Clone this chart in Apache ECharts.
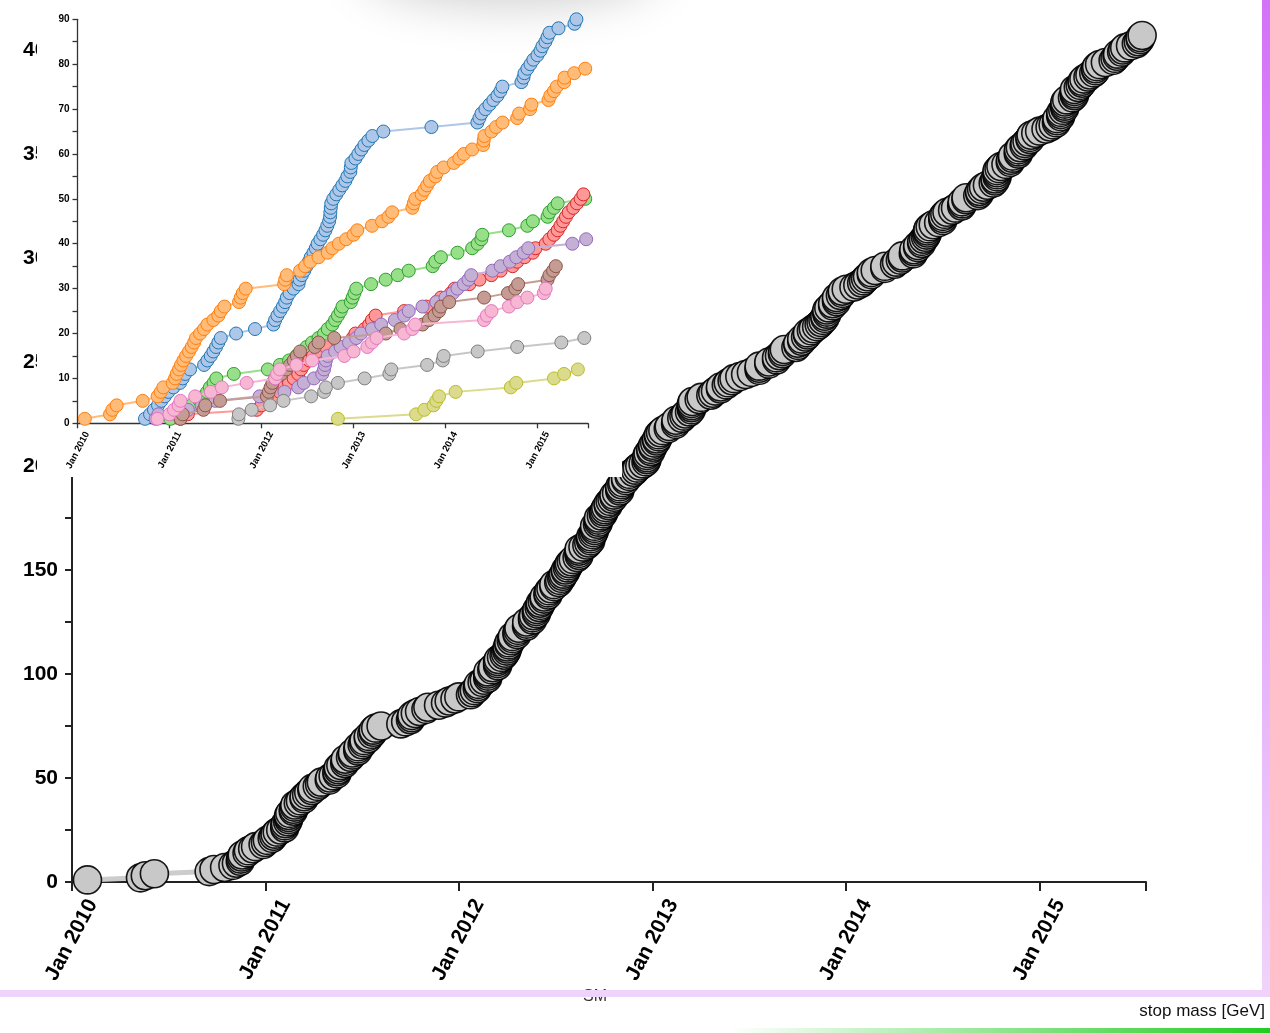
<!DOCTYPE html>
<html><head><meta charset="utf-8">
<script src="https://cdn.jsdelivr.net/npm/echarts@6/dist/echarts.min.js"></script>
<style>html,body{margin:0;padding:0;background:#fff}#c{width:1270px;height:1033px}</style>
</head><body><div id="c"></div>
<script>
// Event dates (decimal years) for each group; the y value of each circle is its running count.
const blueDates = [2010.734,2010.789,2010.832,2010.876,2010.912,2010.949,2010.988,2011.043,2011.115,2011.144,2011.17,2011.224,2011.377,2011.413,2011.449,2011.478,2011.507,2011.532,2011.558,2011.725,2011.931,2012.131,2012.149,2012.174,2012.204,2012.233,2012.258,2012.276,2012.305,2012.349,2012.403,2012.414,2012.439,2012.465,2012.49,2012.515,2012.535,2012.565,2012.59,2012.61,2012.64,2012.67,2012.695,2012.715,2012.735,2012.745,2012.748,2012.753,2012.758,2012.78,2012.813,2012.845,2012.878,2012.911,2012.933,2012.965,2012.97,2012.976,2013.02,2013.052,2013.085,2013.118,2013.161,2013.205,2013.324,2013.847,2014.347,2014.369,2014.391,2014.434,2014.478,2014.521,2014.565,2014.597,2014.619,2014.826,2014.848,2014.859,2014.891,2014.924,2014.956,2015.0,2015.033,2015.054,2015.087,2015.109,2015.131,2015.229,2015.403,2015.424];
const orangeDates = [2010.08,2010.354,2010.379,2010.426,2010.709,2010.872,2010.905,2010.934,2011.035,2011.061,2011.079,2011.104,2011.126,2011.152,2011.181,2011.213,2011.242,2011.268,2011.289,2011.333,2011.376,2011.413,2011.478,2011.532,2011.558,2011.598,2011.757,2011.775,2011.797,2011.83,2012.247,2012.258,2012.276,2012.42,2012.475,2012.53,2012.62,2012.72,2012.77,2012.84,2012.92,2013.0,2013.04,2013.2,2013.31,2013.38,2013.42,2013.64,2013.655,2013.672,2013.74,2013.77,2013.80,2013.83,2013.89,2013.91,2013.98,2014.09,2014.15,2014.20,2014.29,2014.41,2014.416,2014.423,2014.50,2014.55,2014.62,2014.78,2014.80,2014.92,2014.935,2015.12,2015.14,2015.18,2015.21,2015.29,2015.295,2015.40,2015.52];
const greenDates = [2011.01,2011.10,2011.15,2011.24,2011.33,2011.37,2011.41,2011.44,2011.48,2011.51,2011.70,2012.07,2012.2,2012.3,2012.38,2012.44,2012.49,2012.55,2012.62,2012.68,2012.72,2012.77,2012.80,2012.83,2012.86,2012.88,2012.97,2012.99,2013.01,2013.03,2013.19,2013.35,2013.48,2013.6,2013.86,2013.89,2013.95,2014.13,2014.29,2014.35,2014.39,2014.40,2014.69,2014.89,2014.95,2015.11,2015.13,2015.18,2015.22,2015.52];
const redDates = [2011.12,2011.2,2011.95,2012.0,2012.1,2012.15,2012.2,2012.25,2012.3,2012.35,2012.4,2012.43,2012.46,2012.52,2012.56,2012.62,2012.7,2012.97,2012.99,2013.02,2013.12,2013.17,2013.2,2013.24,2013.55,2013.79,2013.9,2013.95,2014.06,2014.1,2014.26,2014.37,2014.5,2014.6,2014.73,2014.78,2014.86,2014.95,2014.98,2015.09,2015.13,2015.18,2015.22,2015.25,2015.28,2015.31,2015.34,2015.39,2015.43,2015.47,2015.50];
const purpleDates = [2010.85,2010.88,2011.2,2011.35,2011.5,2011.98,2012.25,2012.40,2012.46,2012.57,2012.66,2012.68,2012.69,2012.70,2012.72,2012.80,2012.86,2012.95,2013.03,2013.08,2013.2,2013.3,2013.45,2013.55,2013.6,2013.75,2013.9,2014.0,2014.08,2014.13,2014.2,2014.25,2014.28,2014.51,2014.6,2014.7,2014.77,2014.85,2014.9,2015.38,2015.53];
const brownDates = [2011.12,2011.145,2011.37,2011.39,2011.55,2012.06,2012.08,2012.10,2012.12,2012.15,2012.22,2012.27,2012.31,2012.35,2012.385,2012.42,2012.58,2012.62,2012.79,2013.35,2013.51,2013.75,2013.82,2013.88,2013.93,2013.95,2014.04,2014.42,2014.68,2014.76,2014.79,2015.11,2015.13,2015.17,2015.20];
const pinkDates = [2010.87,2011.0,2011.05,2011.10,2011.12,2011.28,2011.45,2011.57,2011.84,2012.15,2012.17,2012.2,2012.38,2012.55,2012.9,2013.0,2013.15,2013.2,2013.25,2013.55,2013.64,2013.67,2014.42,2014.45,2014.50,2014.69,2014.78,2014.89,2015.07,2015.09];
const greyDates = [2011.75,2011.755,2011.895,2012.095,2012.24,2012.54,2012.68,2012.70,2012.83,2013.12,2013.39,2013.41,2013.80,2013.97,2013.98,2014.35,2014.78,2015.26,2015.51];
const yellowDates = [2012.83,2013.68,2013.77,2013.87,2013.90,2013.93,2014.11,2014.71,2014.77,2015.18,2015.29,2015.44];

const groupNames = ['A','B','C','D','E','F','G','H','I'];
const fillColors = ['#aec7e8','#ffbb78','#98df8a','#ff9896','#c5b0d5','#c49c94','#f7b6d2','#c7c7c7','#dbdb8d'];
const strokeColors = ['#1f77b4','#ff7f0e','#2ca02c','#d62728','#9467bd','#8c564b','#e377c2','#7f7f7f','#bcbd22'];
const tickYears = [2010,2011,2012,2013,2014,2015];
const axisStart = 2010, axisEnd = 2015.55;
const mainYMax = 400, insetYMax = 90;

function toTs(d){const Y=Math.floor(d);const a=Date.UTC(Y,0,1),b=Date.UTC(Y+1,0,1);return a+(d-Y)*(b-a);}
const groups=[blueDates,orangeDates,greenDates,redDates,purpleDates,brownDates,pinkDates,greyDates,yellowDates];
const allDates=[].concat(...groups).sort((a,b)=>a-b);
const mainData=allDates.map((d,i)=>[toTs(d),i+1]);
const tickTs=tickYears.map(y=>toTs(y));
// two blank lines above push the rotated label sideways off its tick, as in the original
const fmt=v=>' \n \nJan '+new Date(v).getUTCFullYear();
const FONT='Liberation Sans';

const chart=echarts.init(document.getElementById('c'),null,{renderer:'canvas'});
const insetSeries=groups.map((g,k)=>({
  type:'line',name:groupNames[k],xAxisIndex:1,yAxisIndex:1,z:20+k,zlevel:0,
  data:g.map((d,i)=>[toTs(d),i+1]),symbol:'circle',symbolSize:13,showAllSymbol:true,
  lineStyle:{color:fillColors[k],width:2},
  itemStyle:{color:fillColors[k],borderColor:strokeColors[k],borderWidth:1},
  silent:true,animation:false,clip:false,emphasis:{disabled:true}
}));
chart.setOption({
  animation:false,
  grid:[
    {left:72,top:50,width:1074,height:832,containLabel:false,outerBoundsMode:'none'},
    {left:77.5,top:19.3,width:510.5,height:404,containLabel:false,outerBoundsMode:'none'}
  ],
  xAxis:[
    {type:'value',gridIndex:0,min:toTs(axisStart),max:toTs(axisEnd),z:0,
     splitLine:{show:false},
     axisLine:{lineStyle:{color:'#222',width:2}},
     axisTick:{customValues:tickTs.concat([toTs(axisEnd)]),length:9,lineStyle:{color:'#222',width:2}},
     axisLabel:{customValues:tickTs,formatter:fmt,rotate:62,margin:8,lineHeight:23,hideOverlap:false,
       fontFamily:FONT,fontSize:21,fontWeight:'bold',color:'#000'}},
    {type:'value',gridIndex:1,min:toTs(axisStart),max:toTs(axisEnd),z:15,
     splitLine:{show:false},
     axisLine:{lineStyle:{color:'#333',width:1.3}},
     axisTick:{customValues:tickTs.concat([toTs(axisEnd)]),length:5,lineStyle:{color:'#333',width:1.3}},
     axisLabel:{customValues:tickTs,formatter:fmt,rotate:62,margin:4,lineHeight:11,hideOverlap:false,
       fontFamily:FONT,fontSize:9.5,fontWeight:'bold',color:'#000'}}
  ],
  yAxis:[
    {type:'value',gridIndex:0,min:0,max:mainYMax,interval:25,z:0,splitLine:{show:false},
     axisLine:{show:true,lineStyle:{color:'#222',width:2}},
     axisTick:{show:true,length:7,lineStyle:{color:'#222',width:2}},
     axisLabel:{formatter:v=>v%50===0?String(v):'',margin:14,fontFamily:FONT,fontSize:21,fontWeight:'bold',color:'#000'}},
    {type:'value',gridIndex:1,min:0,max:insetYMax,interval:5,z:15,splitLine:{show:false},
     axisLine:{show:true,lineStyle:{color:'#333',width:1.3}},
     axisTick:{show:true,length:5,lineStyle:{color:'#333',width:1.3}},
     axisLabel:{formatter:v=>v%10===0?String(v):'',margin:8,fontFamily:FONT,fontSize:10,fontWeight:'bold',color:'#000'}}
  ],
  graphic:{elements:[
    {type:'rect',z:10,silent:true,shape:{x:37,y:0,width:585,height:477},style:{fill:'#fff'}},
    {type:'ellipse',z:11,silent:true,shape:{cx:510,cy:-38,rx:150,ry:38},style:{fill:'#fff',shadowBlur:50,shadowOffsetY:4,shadowColor:'rgba(0,0,0,0.2)'}},
    {type:'text',z:30,silent:true,style:{x:595,y:997,text:'SM',fontFamily:FONT,fontSize:16,fill:'#333',align:'center',verticalAlign:'middle'}},
    {type:'rect',z:31,silent:true,shape:{x:0,y:990,width:1268,height:7,r:[0,0,4,0]},style:{fill:'#f0d3fa'}},
    {type:'rect',z:31,silent:true,shape:{x:1262,y:0,width:8,height:997},
      style:{fill:new echarts.graphic.LinearGradient(0,0,0,1,[{offset:0,color:'#d372f7'},{offset:1,color:'#f0d3fa'}])}},
    {type:'text',z:30,silent:true,style:{x:1265,y:1011,text:'stop mass [GeV]',fontFamily:FONT,fontSize:17,fill:'#111',align:'right',verticalAlign:'middle'}},
    {type:'rect',z:30,silent:true,shape:{x:730,y:1028,width:540,height:5},
      style:{fill:new echarts.graphic.LinearGradient(0,0,1,0,[{offset:0,color:'rgba(34,204,34,0)'},{offset:1,color:'#22cc22'}])}}
  ]},
  series:[
    {type:'line',name:'all',xAxisIndex:0,yAxisIndex:0,z:1,data:mainData,symbol:'circle',symbolSize:28,showAllSymbol:true,
     lineStyle:{color:'#cccccc',width:5},itemStyle:{color:'#c8c8c8',borderColor:'rgba(0,0,0,0.9)',borderWidth:1.6},
     silent:true,animation:false,clip:false,emphasis:{disabled:true}}
  ].concat(insetSeries)
});
</script></body></html>
